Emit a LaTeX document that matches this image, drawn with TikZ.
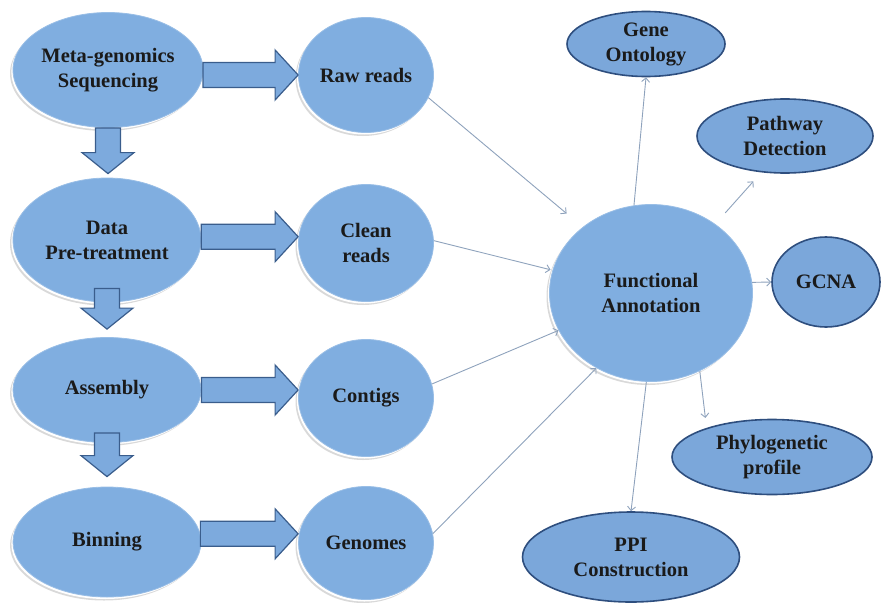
\documentclass[tikz,border=0pt]{standalone}
\usepackage{fontspec}
\setmainfont{Liberation Serif}
\usetikzlibrary{shapes.geometric,arrows.meta,shadows,calc}
\definecolor{nodefill}{HTML}{80AEE0}
\definecolor{plainfill}{HTML}{7BA7DA}
\definecolor{nodeedge}{HTML}{2E4E7E}
\definecolor{blockfill}{HTML}{7DAADD}
\definecolor{blockedge}{HTML}{3A5D8C}
\definecolor{linkcol}{HTML}{8EA2BC}
\definecolor{txt}{HTML}{1A1A1A}
\begin{document}
\begin{tikzpicture}[x=1pt,y=-1pt,
  base/.style={ellipse, inner sep=0pt, align=center, text=txt,
    font=\fontsize{20.5}{25}\selectfont\bfseries},
  gloss/.style={base, fill=nodefill, draw=nodefill!80!white, line width=0.8pt,
    general shadow={fill=gray!30, shadow xshift=-3pt, shadow yshift=-3.5pt},
    general shadow={fill=white, shadow xshift=-1.6pt, shadow yshift=-2pt}},
  plain/.style={base, fill=plainfill, draw=nodeedge, line width=1.6pt},
  hblock/.style={draw=blockedge, fill=blockfill, line width=1.2pt, line join=miter,
    to path={let \p1=(\tikztostart), \p2=(\tikztotarget) in
      (\x1,\y1+12.5pt) -- (\x2-23pt,\y1+12.5pt) -- (\x2-23pt,\y1+25pt) -- (\x2,\y1)
      -- (\x2-23pt,\y1-25pt) -- (\x2-23pt,\y1-12.5pt) -- (\x1,\y1-12.5pt) -- cycle}},
  vblock/.style={draw=blockedge, fill=blockfill, line width=1.2pt, line join=miter,
    to path={let \p1=(\tikztostart), \p2=(\tikztotarget) in
      (\x1-12.5pt,\y1) -- (\x1-12.5pt,\y2+21pt) -- (\x1-26pt,\y2+21pt) -- (\x1,\y2)
      -- (\x1+26pt,\y2+21pt) -- (\x1+12.5pt,\y2+21pt) -- (\x1+12.5pt,\y1) -- cycle}},
  link/.style={draw=linkcol, line width=0.9pt, -{Straight Barb[length=4pt,width=8pt]}}
]
\useasboundingbox (0,0) rectangle (885,602);

% left column
\node[gloss, minimum width=190pt, minimum height=115pt] (meta) at (108,70) {Meta-genomics\\Sequencing};
\node[gloss, minimum width=188pt, minimum height=124pt] (data) at (107,240) {Data\\Pre-treatment};
\node[gloss, minimum width=188pt, minimum height=105pt] (assembly) at (107,390) {Assembly};
\node[gloss, minimum width=188pt, minimum height=110pt] (binning) at (107,542) {Binning};

% middle column
\node[gloss, minimum width=135pt, minimum height=115pt] (raw) at (366,75) {Raw reads};
\node[gloss, minimum width=135pt, minimum height=117pt] (clean) at (366,243) {Clean\\reads};
\node[gloss, minimum width=135pt, minimum height=117pt] (contigs) at (366,398) {Contigs};
\node[gloss, minimum width=135pt, minimum height=113pt] (genomes) at (366,543) {Genomes};

% hub
\node[gloss, minimum width=203pt, minimum height=177pt] (fa) at (651,293) {Functional\\Annotation};

% right outputs
\node[plain, minimum width=158pt, minimum height=65pt] (go) at (646,44) {Gene\\Ontology};
\node[plain, minimum width=176pt, minimum height=74pt] (path) at (785,136) {Pathway\\Detection};
\node[plain, minimum width=108pt, minimum height=90pt] (gcna) at (826,282) {GCNA};
\node[plain, minimum width=200pt, minimum height=75pt] (phylo) at (772,457) {Phylogenetic\\profile};
\node[plain, minimum width=217pt, minimum height=90pt] (ppi) at (631,557) {PPI\\Construction};

% block arrows
\draw[hblock] (meta.-3) to (raw.west);
\draw[hblock] (data.2) to (clean.west);
\draw[hblock] (assembly.east) to (contigs.west);
\draw[hblock] (binning.5) to (genomes.west);
\draw[vblock] (meta.south) to ([yshift=4pt]data.north);
\draw[vblock] ([yshift=14pt]data.south) to ([yshift=8pt]assembly.north);
\draw[vblock] ([yshift=10pt]assembly.south) to ([yshift=10pt]binning.north);

% thin links
\draw[link, shorten >=21pt] (raw.-20) -- (fa.136);
\draw[link, shorten >=2pt] (clean.2) -- (fa.167);
\draw[link] (contigs.12) -- (fa.202);
\draw[link] (genomes.8) -- (fa.234);
\draw[link] (fa.101) -- (go.south);
\draw[link, shorten <=15pt, shorten >=12pt] (fa.47) -- (path.237);
\draw[link] (fa.6) -- (gcna.west);
\draw[link, shorten >=10pt] (fa.-58) -- (phylo.156);
\draw[link] (fa.-93) -- (ppi.north);
\end{tikzpicture}
\end{document}
